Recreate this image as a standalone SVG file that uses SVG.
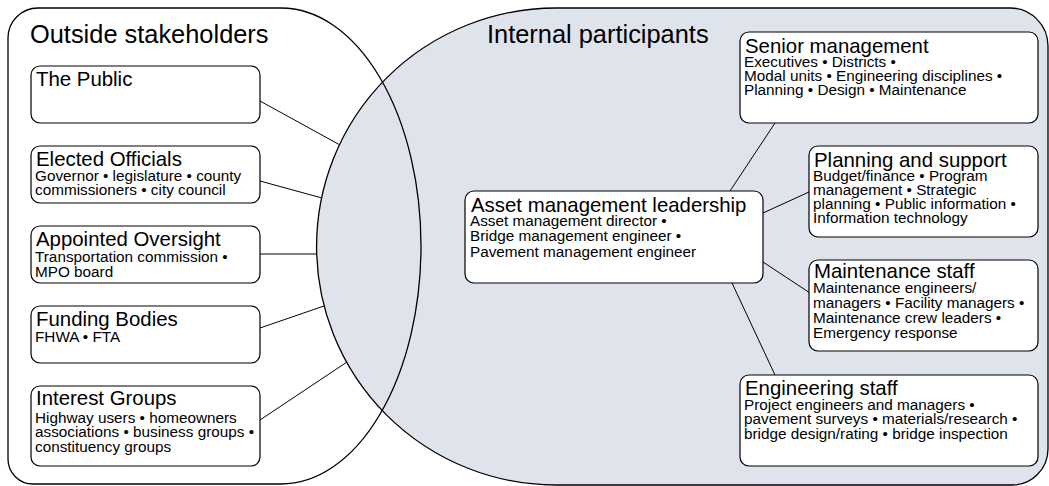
<svg xmlns="http://www.w3.org/2000/svg" width="1049" height="486" viewBox="0 0 1049 486">
<style>
.region{stroke:#000;stroke-width:1.3}
.box{fill:#fff;stroke:#000;stroke-width:1.2}
.big{font-family:"Liberation Sans",Arial,sans-serif;font-size:25.4px;fill:#000}
.t{font-family:"Liberation Sans",Arial,sans-serif;font-size:20.4px;fill:#000}
.s{font-family:"Liberation Sans",Arial,sans-serif;font-size:15.3px;fill:#000}
.conn line{stroke:#000;stroke-width:1}
</style>
<rect width="1049" height="486" fill="#fff"/>
<g id="internal-region">
<path class="region" fill="#dfe3eb" d="M556 8 H1010 A38 38 0 0 1 1048 46 V449 A36 36 0 0 1 1012 485 H556 A239 238 0 0 1 556 8 Z"/>
<text class="big" x="487" y="43">Internal participants</text>
</g>
<g id="outside-region">
<path class="region" fill="none" d="M38 8 H281 A140 238 0 0 1 281 484 H33 A25 25 0 0 1 8 459 V38 A30 30 0 0 1 38 8 Z"/>
<text class="big" x="30" y="43">Outside stakeholders</text>
</g>
<g id="connectors" class="conn">
<line x1="260" y1="101" x2="340" y2="145"/>
<line x1="260" y1="181" x2="322" y2="198"/>
<line x1="260" y1="254" x2="317" y2="254"/>
<line x1="260" y1="328" x2="324" y2="306"/>
<line x1="260" y1="420" x2="347" y2="362"/>
<line x1="730" y1="191" x2="775" y2="123"/>
<line x1="763" y1="213" x2="809" y2="192"/>
<line x1="763" y1="262" x2="810" y2="293"/>
<line x1="732" y1="283" x2="775" y2="375"/>
</g>
<g id="the-public">
<rect class="box" x="31" y="66" width="229" height="57" rx="9"/>
<text class="t" x="36" y="86">The Public</text>
</g>
<g id="elected-officials">
<rect class="box" x="31" y="146" width="229" height="57" rx="9"/>
<text class="t" x="36" y="166">Elected Officials</text>
<text class="s" x="35" y="181">Governor • legislature • county</text>
<text class="s" x="35" y="195">commissioners • city council</text>
</g>
<g id="appointed-oversight">
<rect class="box" x="31" y="226" width="229" height="57" rx="9"/>
<text class="t" x="36" y="246">Appointed Oversight</text>
<text class="s" x="35" y="261.5">Transportation commission •</text>
<text class="s" x="35" y="276.5">MPO board</text>
</g>
<g id="funding-bodies">
<rect class="box" x="31" y="306" width="229" height="57" rx="9"/>
<text class="t" x="36" y="326">Funding Bodies</text>
<text class="s" x="35" y="341.5">FHWA • FTA</text>
</g>
<g id="interest-groups">
<rect class="box" x="31" y="386" width="229" height="80" rx="9"/>
<text class="t" x="36" y="405">Interest Groups</text>
<text class="s" x="35" y="422.5">Highway users • homeowners</text>
<text class="s" x="35" y="437.3">associations • business groups •</text>
<text class="s" x="35" y="452.2">constituency groups</text>
</g>
<g id="senior-management">
<rect class="box" x="740" y="32" width="298" height="91" rx="9"/>
<text class="t" x="745" y="53">Senior management</text>
<text class="s" x="744" y="67">Executives • Districts •</text>
<text class="s" x="744" y="81.2">Modal units • Engineering disciplines •</text>
<text class="s" x="744" y="95.4">Planning • Design • Maintenance</text>
</g>
<g id="planning-support">
<rect class="box" x="809" y="146" width="229" height="91" rx="9"/>
<text class="t" x="814" y="166.5">Planning and support</text>
<text class="s" x="813" y="180.5">Budget/finance • Program</text>
<text class="s" x="813" y="194.7">management • Strategic</text>
<text class="s" x="813" y="208.9">planning • Public information •</text>
<text class="s" x="813" y="223.1">Information technology</text>
</g>
<g id="leadership">
<rect class="box" x="465" y="191" width="298" height="92" rx="9"/>
<text class="t" x="471" y="211.5">Asset management leadership</text>
<text class="s" x="470" y="226">Asset management director •</text>
<text class="s" x="470" y="241.3">Bridge management engineer •</text>
<text class="s" x="470" y="256.6">Pavement management engineer</text>
</g>
<g id="maintenance-staff">
<rect class="box" x="809" y="260" width="229" height="91" rx="9"/>
<text class="t" x="814" y="278">Maintenance staff</text>
<text class="s" x="813" y="293.3">Maintenance engineers/</text>
<text class="s" x="813" y="308">managers • Facility managers •</text>
<text class="s" x="813" y="322.8">Maintenance crew leaders •</text>
<text class="s" x="813" y="337.6">Emergency response</text>
</g>
<g id="engineering-staff">
<rect class="box" x="740" y="375" width="298" height="91" rx="9"/>
<text class="t" x="745" y="395">Engineering staff</text>
<text class="s" x="744" y="409.5">Project engineers and managers •</text>
<text class="s" x="744" y="424">pavement surveys • materials/research •</text>
<text class="s" x="744" y="438.5">bridge design/rating • bridge inspection</text>
</g>
</svg>
